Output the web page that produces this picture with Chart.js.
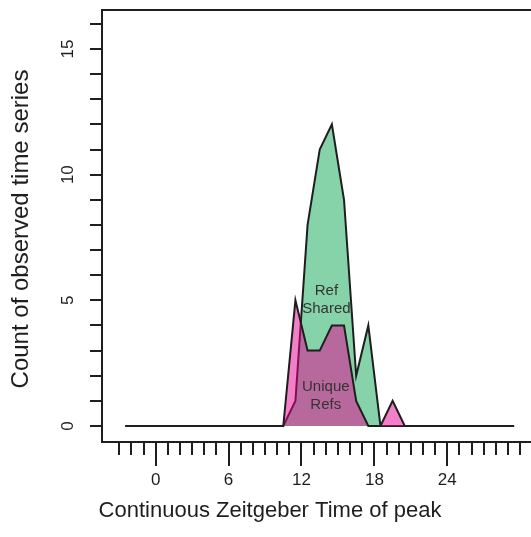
<!DOCTYPE html>
<html>
<head>
<meta charset="utf-8">
<script src="https://cdn.jsdelivr.net/npm/chart.js@4.4.1/dist/chart.umd.min.js"></script>
<style>
  body { margin: 0; background: #fff; }
  canvas { display: block; }
</style>
</head>
<body>
<canvas id="peakChart" width="531" height="537"></canvas>
<script>
// bin centres of the peak time (ZT), and counts per bin
const ztBins = [-2.5, -1.5, -0.5, 0.5, 1.5, 2.5, 3.5, 4.5, 5.5, 6.5, 7.5, 8.5, 9.5, 10.5,
    11.5, 12.5, 13.5, 14.5, 15.5, 16.5, 17.5, 18.5, 19.5, 20.5, 21.5, 22.5, 23.5, 24.5,
    25.5, 26.5, 27.5, 28.5, 29.5];
const sharedCounts = [0, 0, 0, 0, 0, 0, 0, 0, 0, 0, 0, 0, 0, 0,
    1, 8, 11, 12, 9, 2, 4, 0, 0, 0, 0, 0, 0, 0,
    0, 0, 0, 0, 0];
const uniqueCounts = [0, 0, 0, 0, 0, 0, 0, 0, 0, 0, 0, 0, 0, 0,
    5, 3, 3, 4, 4, 1, 0, 0, 1, 0, 0, 0, 0, 0,
    0, 0, 0, 0, 0];
const xTickLabels = [0, 6, 12, 18, 24];
const yTickLabels = [0, 5, 10, 15];

const FONT = '"Liberation Sans", Arial, Helvetica, sans-serif';
const INK = '#1e1e1e';

// text written inside the areas (data units)
const areaLabels = [
    { lines: ["Ref", "Shared"], x: 14.05, y: 5.0 },
    { lines: ["Unique", "Refs"], x: 14.0, y: 1.2 }
];

const toPoints = vals => ztBins.map((x, i) => ({ x: x, y: vals[i] }));

// R style axes: box, outer ticks, rotated y labels
const rAxes = {
    id: 'rAxes',
    afterDatasetsDraw(chart) {
        const { ctx, scales: { x, y } } = chart;
        ctx.save();
        ctx.fillStyle = '#333';
        ctx.font = '15px ' + FONT;
        ctx.textAlign = 'center';
        ctx.textBaseline = 'middle';
        areaLabels.forEach(l => {
            const px = x.getPixelForValue(l.x);
            const py = y.getPixelForValue(l.y);
            l.lines.forEach((t, i) => ctx.fillText(t, px, py + (i - (l.lines.length - 1) / 2) * 18));
        });
        ctx.restore();
    },
    afterDraw(chart) {
        const { ctx, chartArea: a, scales: { x, y } } = chart;
        ctx.save();
        ctx.strokeStyle = INK;
        ctx.fillStyle = INK;
        ctx.lineWidth = 2;

        ctx.beginPath();
        ctx.moveTo(a.right + 4, a.top);
        ctx.lineTo(a.left, a.top);
        ctx.lineTo(a.left, a.bottom);
        ctx.lineTo(a.right + 4, a.bottom);
        ctx.stroke();

        // y ticks
        ctx.beginPath();
        for (let v = 0; v <= 16; v++) {
            const py = Math.round(y.getPixelForValue(v));
            ctx.moveTo(a.left, py);
            ctx.lineTo(a.left - 12, py);
        }
        // x ticks, long ones where labelled
        for (let v = -3; v <= 30; v++) {
            const px = Math.round(x.getPixelForValue(v));
            ctx.moveTo(px, a.bottom);
            ctx.lineTo(px, a.bottom + (xTickLabels.includes(v) ? 24 : 13));
        }
        ctx.stroke();

        ctx.font = '17px ' + FONT;
        ctx.textAlign = 'center';
        ctx.textBaseline = 'middle';
        xTickLabels.forEach(v => ctx.fillText(String(v), x.getPixelForValue(v), 480));
        yTickLabels.forEach(v => {
            ctx.save();
            ctx.translate(68, y.getPixelForValue(v));
            ctx.rotate(-Math.PI / 2);
            ctx.fillText(String(v), 0, 0);
            ctx.restore();
        });

        ctx.font = '22px ' + FONT;
        ctx.fillText('Continuous Zeitgeber Time of peak', 270, 511);
        ctx.font = '24px ' + FONT;
        ctx.save();
        ctx.translate(21, 229);
        ctx.rotate(-Math.PI / 2);
        ctx.fillText('Count of observed time series', 0, 0);
        ctx.restore();
        ctx.restore();
    }
};

new Chart(document.getElementById('peakChart'), {
    type: 'line',
    data: {
        datasets: [
            {
                label: 'Unique Refs',
                data: toPoints(uniqueCounts),
                order: 0,
                fill: 'origin',
                backgroundColor: 'rgba(231, 0, 145, 0.5)',
                borderColor: INK,
                borderWidth: 2,
                pointRadius: 0,
                tension: 0
            },
            {
                label: 'Ref Shared',
                data: toPoints(sharedCounts),
                order: 1,
                fill: 'origin',
                backgroundColor: 'rgb(134, 211, 170)',
                borderColor: INK,
                borderWidth: 2,
                pointRadius: 0,
                tension: 0
            }
        ]
    },
    options: {
        responsive: false,
        animation: false,
        devicePixelRatio: 1,
        layout: { padding: { left: 102, top: 10, right: 0, bottom: 95 } },
        scales: {
            x: { type: 'linear', min: -4.42, max: 30.89, display: false },
            y: { type: 'linear', min: -0.636, max: 16.55, display: false }
        },
        plugins: {
            legend: { display: false },
            tooltip: { enabled: false }
        }
    },
    plugins: [rAxes]
});
</script>
</body>
</html>
